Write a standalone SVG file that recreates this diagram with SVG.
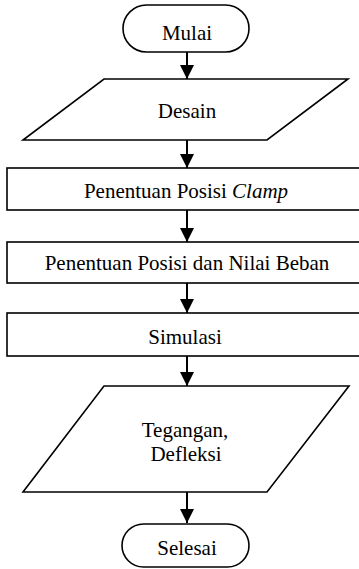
<svg xmlns="http://www.w3.org/2000/svg" width="359" height="569" viewBox="0 0 359 569">
<defs>
<style>
.s{fill:#fff;stroke:#000;stroke-width:1.6}
.t{font-family:'Liberation Serif','Times New Roman',serif;font-size:21px;fill:#000;text-anchor:middle}
.c{stroke:#000;stroke-width:2;fill:none}
</style>
<marker id="ah" viewBox="0 0 14 14" refX="14" refY="7" markerWidth="14" markerHeight="14" markerUnits="userSpaceOnUse" orient="auto">
<path d="M0,0 L14,7 L0,14 Z" fill="#000"/>
</marker>
</defs>
<rect width="359" height="569" fill="#fff"/>
<g id="connectors">
<line class="c" x1="187" y1="52" x2="187" y2="79" marker-end="url(#ah)"/>
<line class="c" x1="187" y1="140" x2="187" y2="168" marker-end="url(#ah)"/>
<line class="c" x1="187" y1="210" x2="187" y2="242" marker-end="url(#ah)"/>
<line class="c" x1="187" y1="283" x2="187" y2="313" marker-end="url(#ah)"/>
<line class="c" x1="187" y1="356" x2="187" y2="386" marker-end="url(#ah)"/>
<line class="c" x1="187" y1="492" x2="187" y2="523" marker-end="url(#ah)"/>
</g>
<g id="mulai">
<rect class="s" x="123" y="5" width="126" height="47" rx="23.5"/>
<text class="t" x="187" y="40">Mulai</text>
</g>
<g id="desain">
<polygon class="s" points="104,79 348,79 267,140 23,140"/>
<text class="t" x="187" y="118">Desain</text>
</g>
<g id="clamp">
<rect class="s" x="7" y="168" width="353" height="42"/>
<text class="t" x="186" y="198">Penentuan Posisi <tspan font-style="italic">Clamp</tspan></text>
</g>
<g id="beban">
<rect class="s" x="7" y="242" width="353" height="41"/>
<text class="t" x="187" y="270">Penentuan Posisi dan Nilai Beban</text>
</g>
<g id="simulasi">
<rect class="s" x="7" y="313" width="353" height="43"/>
<text class="t" x="185" y="344">Simulasi</text>
</g>
<g id="output">
<polygon class="s" points="104,386 349,386 267,492 23,492"/>
<text class="t" x="185" y="437">Tegangan,</text>
<text class="t" x="186" y="461">Defleksi</text>
</g>
<g id="selesai">
<rect class="s" x="122" y="524" width="127" height="43" rx="21.5"/>
<text class="t" x="187" y="555">Selesai</text>
</g>
</svg>
